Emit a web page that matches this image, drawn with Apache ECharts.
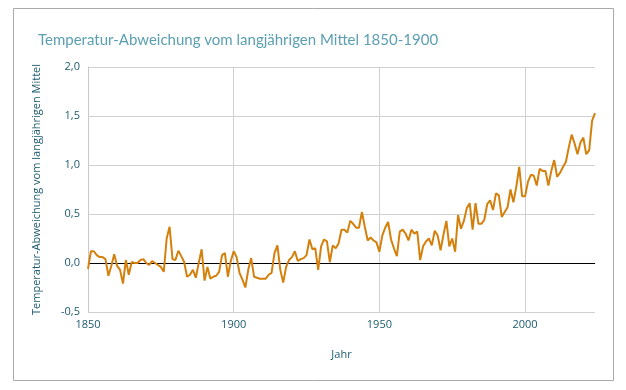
<!DOCTYPE html>
<html>
<head>
<meta charset="utf-8">
<script src="https://cdn.jsdelivr.net/npm/echarts@6/dist/echarts.min.js"></script>
<style>
html,body{margin:0;padding:0;background:#fff;}
#chart{width:626px;height:390px;}
</style>
</head>
<body>
<div id="chart"></div>
<script>
const titleText = 'Temperatur-Abweichung vom langjährigen Mittel 1850-1900';
const yAxisName = 'Temperatur-Abweichung vom langjährigen Mittel';
const xAxisName = 'Jahr';
const firstYear = 1850;
const lastYear = 2024;
const xTicks = [1850, 1900, 1950, 2000];
const yTicks = [-0.5, 0.0, 0.5, 1.0, 1.5, 2.0];
const anomalies = [
  -0.06, 0.12, 0.12, 0.08, 0.06, 0.06, 0.04, -0.13, -0.03, 0.09,
  -0.03, -0.07, -0.21, 0.03, -0.12, 0.01, 0.00, 0.00, 0.03, 0.04,
  0.00, -0.02, 0.02, 0.00, -0.02, -0.04, -0.09, 0.25, 0.37, 0.04,
  0.03, 0.125, 0.07, 0.01, -0.14, -0.12, -0.07, -0.15, 0.00, 0.14,
  -0.18, -0.04, -0.16, -0.14, -0.13, -0.09, 0.08, 0.10, -0.14, 0.02,
  0.12, 0.06, -0.10, -0.17, -0.25, -0.07, 0.05, -0.14, -0.15, -0.16,
  -0.16, -0.16, -0.12, -0.10, 0.10, 0.18, -0.07, -0.20, -0.04, 0.03,
  0.06, 0.12, 0.02, 0.04, 0.05, 0.08, 0.24, 0.14, 0.15, -0.07,
  0.17, 0.24, 0.22, 0.01, 0.18, 0.15, 0.20, 0.34, 0.34, 0.31,
  0.43, 0.40, 0.36, 0.36, 0.52, 0.37, 0.23, 0.26, 0.23, 0.21,
  0.115, 0.28, 0.36, 0.42, 0.24, 0.15, 0.07, 0.32, 0.34, 0.30,
  0.23, 0.34, 0.30, 0.32, 0.03, 0.17, 0.22, 0.25, 0.18, 0.33,
  0.28, 0.13, 0.29, 0.43, 0.17, 0.25, 0.115, 0.49, 0.35, 0.43,
  0.56, 0.61, 0.34, 0.61, 0.40, 0.40, 0.44, 0.60, 0.64, 0.54,
  0.71, 0.69, 0.47, 0.52, 0.57, 0.75, 0.62, 0.78, 0.98, 0.68,
  0.68, 0.83, 0.90, 0.89, 0.79, 0.96, 0.94, 0.94, 0.79, 0.94,
  1.05, 0.88, 0.92, 0.98, 1.03, 1.18, 1.31, 1.22, 1.11, 1.23,
  1.28, 1.11, 1.15, 1.45, 1.53
];

const seriesData = anomalies.map((v, i) => [firstYear + i, v]);
const labelColor = '#1d5a6e';
const labelFont = 'Open Sans';

const chart = echarts.init(document.getElementById('chart'), null, {renderer: 'canvas'});
chart.setOption({
  animation: false,
  backgroundColor: '#ffffff',
  title: {
    text: titleText,
    left: 33,
    top: 28,
    textStyle: {fontFamily: 'Lato', fontSize: 15, fontWeight: 'normal', color: '#5b9fb1'}
  },
  graphic: [{
    type: 'rect',
    shape: {x: 13.5, y: 8.5, width: 600, height: 372},
    style: {fill: null, stroke: '#a9a9a9', lineWidth: 1},
    silent: true
  }],
  grid: {left: 88, right: 31, top: 67, bottom: 78, containLabel: false},
  xAxis: {
    type: 'value',
    min: firstYear,
    max: lastYear,
    interval: 50,
    name: xAxisName,
    nameLocation: 'middle',
    nameGap: 37,
    nameTextStyle: {fontFamily: labelFont, fontSize: 11, color: labelColor},
    axisLine: {show: true, lineStyle: {color: '#c8c8c8', width: 1}},
    axisTick: {show: false},
    axisLabel: {
      fontFamily: labelFont, fontSize: 11, color: labelColor, margin: 7,
      showMaxLabel: false,
      formatter: v => xTicks.indexOf(v) >= 0 ? String(v) : ''
    },
    splitLine: {show: true, showMinLine: false, showMaxLine: false, lineStyle: {color: '#d0d0d0', width: 1}}
  },
  yAxis: {
    type: 'value',
    min: yTicks[0],
    max: yTicks[yTicks.length - 1],
    interval: 0.5,
    name: yAxisName,
    nameLocation: 'middle',
    nameGap: 46,
    nameRotate: 90,
    nameTextStyle: {fontFamily: labelFont, fontSize: 11, color: labelColor},
    axisLine: {show: true, lineStyle: {color: '#c8c8c8', width: 1}},
    axisTick: {show: false},
    axisLabel: {
      fontFamily: labelFont, fontSize: 11, color: labelColor, margin: 8,
      formatter: v => v.toFixed(1).replace('.', ',')
    },
    splitLine: {show: true, lineStyle: {color: '#d0d0d0', width: 1}}
  },
  series: [{
    type: 'line',
    data: seriesData,
    showSymbol: false,
    symbol: 'none',
    lineStyle: {color: '#d4800c', width: 2},
    z: 3,
    markLine: {
      silent: true,
      symbol: ['none', 'none'],
      label: {show: false},
      lineStyle: {color: '#000000', width: 1, type: 'solid'},
      data: [{yAxis: 0}],
      z: 2
    }
  }]
});
</script>
</body>
</html>
